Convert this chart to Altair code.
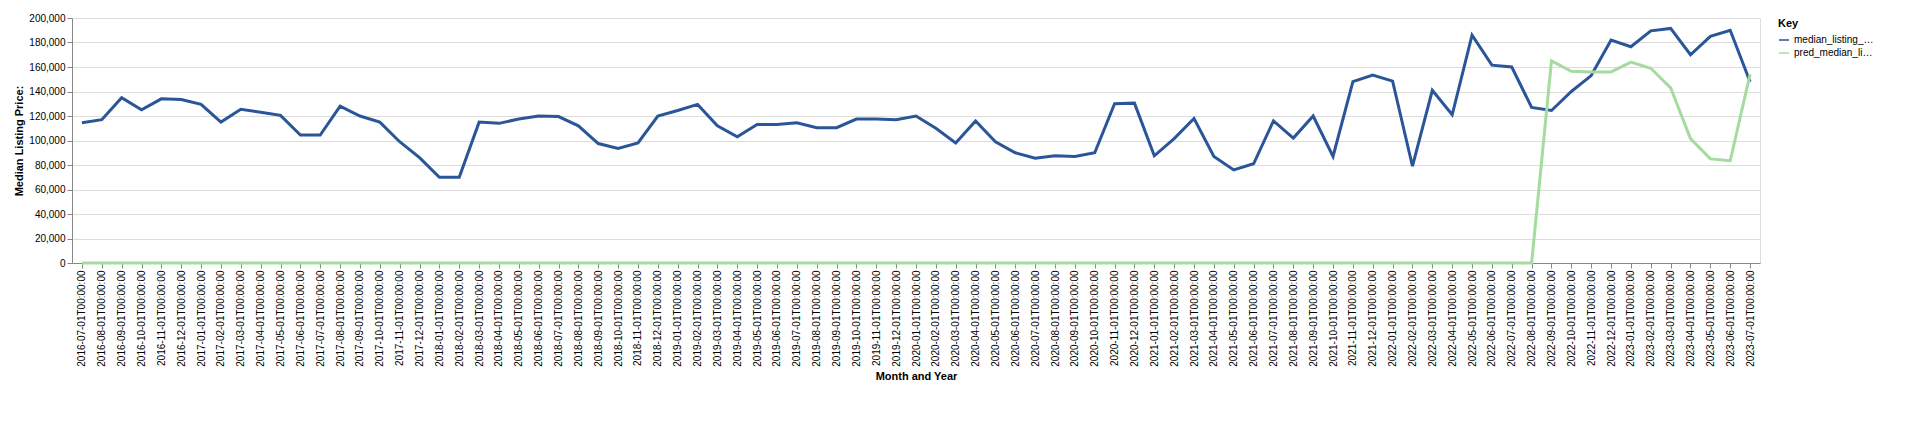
import pandas as pd
import altair as alt

months = pd.date_range('2016-07-01', '2023-07-01', freq='MS').strftime('%Y-%m-%dT%H:%M:%S').tolist()

median_listing_price = [
    114500, 117000, 135000, 125000, 134000, 133500, 129500, 115000, 125500, 123000,
    120500, 104500, 104500, 128000, 120000, 115000, 99000, 86000, 70000, 70000,
    115000, 114000, 117500, 120000, 119500, 112000, 97500, 93500, 98000, 120000,
    124500, 129500,
    112000, 103000, 113000, 113000, 114500, 110500, 110500, 117500, 117500, 117000,
    120000, 110000, 98000, 116000, 99000, 90000, 85500, 87500, 87000, 90000,
    130000, 130500, 87500, 101500, 118000, 87000, 76000, 81000, 116000, 102000,
    120000, 87000, 148000, 153500, 148500, 79000, 141000, 121000, 186000, 161500,
    160000, 127000, 124500, 140000, 153000, 182000, 176500, 189500, 191500, 170000,
    185000, 190000, 148000,
]
pred_median_listing_price = [0] * 74 + [
    165000, 156500, 156000, 156000, 164000, 159000, 143000, 101500, 85000, 83500, 154000,
]

df = pd.DataFrame({
    'month': months,
    'median_listing_price': median_listing_price,
    'pred_median_listing_price': pred_median_listing_price,
}).melt('month', var_name='Key', value_name='price')

chart = (
    alt.Chart(df)
    .mark_line(strokeWidth=3)
    .encode(
        x=alt.X('month:O', title='Month and Year', axis=alt.Axis(labelAngle=-90)),
        y=alt.Y('price:Q', title='Median Listing Price:', scale=alt.Scale(domain=[0, 200000])),
        color=alt.Color(
            'Key:N', title='Key',
            scale=alt.Scale(range=['#2a5599', '#a6dba0']),
            legend=alt.Legend(labelLimit=80, symbolType='stroke'),
        ),
    )
    .properties(width=1688, height=245)
    .configure_axis(labelFont='Liberation Sans', titleFont='Liberation Sans')
    .configure_legend(labelFont='Liberation Sans', titleFont='Liberation Sans')
)

chart.save("out.html", embed_options={"renderer": "svg", "actions": False})
